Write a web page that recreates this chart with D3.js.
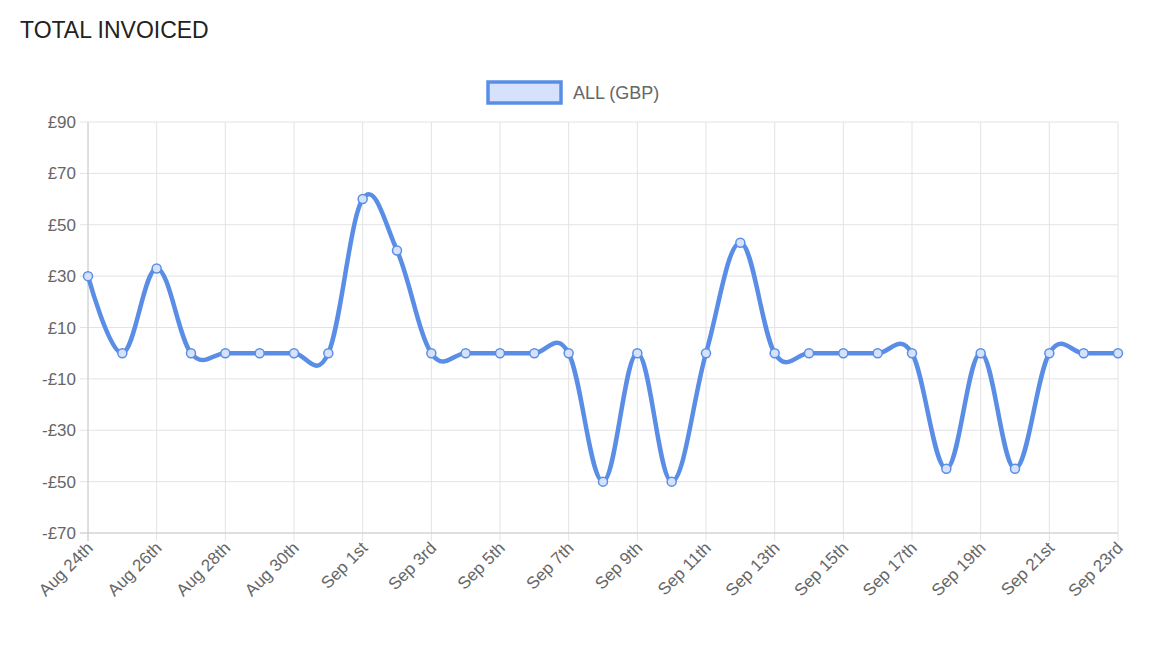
<!DOCTYPE html>
<html><head><meta charset="utf-8">
<script src="https://cdn.jsdelivr.net/npm/d3@7"></script>
<style>body{margin:0;background:#fff;font-family:"Liberation Sans",Arial,sans-serif}</style>
</head><body>
<svg id="chart" width="1158" height="672"></svg>
<script>
// data
const dates = ["Aug 24th","Aug 25th","Aug 26th","Aug 27th","Aug 28th","Aug 29th","Aug 30th","Aug 31st",
  "Sep 1st","Sep 2nd","Sep 3rd","Sep 4th","Sep 5th","Sep 6th","Sep 7th","Sep 8th","Sep 9th","Sep 10th",
  "Sep 11th","Sep 12th","Sep 13th","Sep 14th","Sep 15th","Sep 16th","Sep 17th","Sep 18th","Sep 19th",
  "Sep 20th","Sep 21st","Sep 22nd","Sep 23rd"];
const values = [30,0,33,0,0,0,0,0,60,40,0,0,0,0,0,-50,0,-50,0,43,0,0,0,0,0,-45,0,-45,0,0,0];
const yTicks = [90,70,50,30,10,-10,-30,-50,-70];

const svg = d3.select("#chart");
const pLeft = 88, pRight = 1118, pTop = 122, pBottom = 533;

const x = d3.scalePoint().domain(dates).range([pLeft, pRight]);
const y = d3.scaleLinear().domain([-70, 90]).range([pBottom, pTop]);

// title
svg.append("text").attr("x", 20).attr("y", 38)
  .style("font-size", "23px").attr("fill", "#222").text("TOTAL INVOICED");

// legend
svg.append("rect").attr("x", 488).attr("y", 82).attr("width", 73).attr("height", 21)
  .attr("fill", "#d6e2fb").attr("stroke", "#5a8ee6").attr("stroke-width", 3.5);
svg.append("text").attr("x", 573).attr("y", 99).style("font-size", "18px")
  .attr("fill", "#666").text("ALL (GBP)");

// grid
const grid = svg.append("g").attr("stroke", "#e3e3e3").attr("stroke-width", 1);
yTicks.forEach(t => grid.append("line").attr("x1", pLeft - 8).attr("x2", pRight)
  .attr("y1", y(t)).attr("y2", y(t)));
dates.forEach((d, i) => { if (i % 2 === 0) grid.append("line").attr("x1", x(d)).attr("x2", x(d))
  .attr("y1", pTop).attr("y2", pBottom + 8); });
svg.append("line").attr("x1", pLeft).attr("x2", pLeft).attr("y1", pTop).attr("y2", pBottom + 8)
  .attr("stroke", "#ccc");
svg.append("line").attr("x1", pLeft - 8).attr("x2", pRight).attr("y1", pBottom).attr("y2", pBottom)
  .attr("stroke", "#ccc");

// y labels
yTicks.forEach(t => svg.append("text").attr("x", pLeft - 12).attr("y", y(t) + 6)
  .attr("text-anchor", "end").style("font-size", "17px").attr("fill", "#666")
  .text((t < 0 ? "-£" : "£") + Math.abs(t)));

// x labels
dates.forEach((d, i) => { if (i % 2 === 0) svg.append("text")
  .attr("transform", `translate(${x(d) + 6},${pBottom + 16}) rotate(-45)`)
  .attr("text-anchor", "end").style("font-size", "17px").attr("fill", "#666").text(d); });

// line
const line = d3.line().x((d, i) => x(dates[i])).y(d => y(d)).curve(d3.curveCardinal.tension(-0.1));
svg.append("path").datum(values).attr("d", line).attr("fill", "none")
  .attr("stroke", "#5a8ee6").attr("stroke-width", 4.5);

svg.selectAll("circle.pt").data(values).join("circle")
  .attr("cx", (d, i) => x(dates[i])).attr("cy", d => y(d)).attr("r", 4.5)
  .attr("fill", "#d6e2fb").attr("stroke", "#5a8ee6").attr("stroke-width", 1.5);
</script>
</body></html>
